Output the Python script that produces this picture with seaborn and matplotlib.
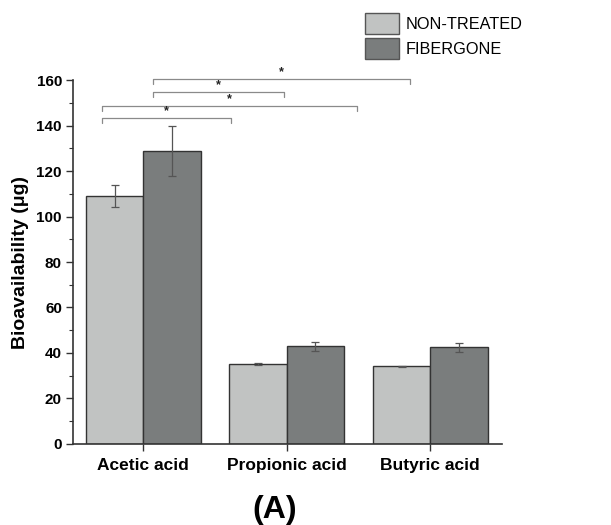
import matplotlib
matplotlib.use("Agg")
import matplotlib.pyplot as plt
import seaborn as sns
import pandas as pd
import numpy as np
from matplotlib.patches import Patch
from matplotlib.ticker import MultipleLocator

categories = ["Acetic acid", "Propionic acid", "Butyric acid"]
groups = ["NON-TREATED", "FIBERGONE"]
non_treated = [109.0, 35.2, 34.2]
non_treated_err = [5.0, 0.4, 0.3]
fibergone = [129.0, 43.0, 42.5]
fibergone_err = [11.0, 2.0, 2.0]
colors = ["#c1c3c2", "#7a7d7d"]
# significance comparisons: (x_start, x_end, y)
brackets = [(-0.29, 0.61, 143.2), (-0.29, 1.49, 148.4), (0.07, 0.98, 154.6), (0.07, 1.86, 160.4)]

sns.set_theme(style="white")
plt.rcParams['font.family'] = ['Liberation Sans', 'DejaVu Sans']
plt.rcParams['text.color'] = 'black'
plt.rcParams['xtick.color'] = 'black'
plt.rcParams['ytick.color'] = 'black'
plt.rcParams['axes.labelcolor'] = 'black'

df = pd.DataFrame({
    "acid": categories * 2,
    "group": [groups[0]] * 3 + [groups[1]] * 3,
    "value": non_treated + fibergone,
    "err": non_treated_err + fibergone_err,
})

fig = plt.figure(figsize=(6.11, 5.25), dpi=100)
ax = fig.add_axes([0.1195, 0.1543, 0.7021, 0.6933])
sns.barplot(data=df, x="acid", y="value", hue="group", order=categories, hue_order=groups,
            palette=colors, errorbar=None, width=0.8, edgecolor="#333333", linewidth=1.0,
            saturation=1, legend=False, ax=ax)

# error bars from the bars' own positions
for container, errs in zip(ax.containers, [non_treated_err, fibergone_err]):
    for bar, e in zip(container, errs):
        xc = bar.get_x() + bar.get_width() / 2
        ax.errorbar(xc, bar.get_height(), yerr=e, color="#555555", elinewidth=0.9,
                    capsize=3, capthick=0.9, zorder=5)

ax.set_xlim(-0.49, 2.5)
ax.set_ylim(0, 160)
ax.yaxis.set_major_locator(MultipleLocator(20))
ax.yaxis.set_minor_locator(MultipleLocator(10))
for s in ["top", "right"]:
    ax.spines[s].set_visible(False)
for s in ["left", "bottom"]:
    ax.spines[s].set_color("#333333")
    ax.spines[s].set_linewidth(1.2)
ax.tick_params(axis="both", which="major", direction="out", length=5, width=1.0,
               color="#333333", left=True, bottom=True, pad=3)
ax.tick_params(axis="x", which="major", pad=5)
ax.tick_params(axis="y", which="minor", direction="out", length=3, width=0.8,
               color="#333333", left=True)
ax.set_xlabel("")
ax.set_ylabel("Bioavailability (μg)", fontsize=14, fontweight="bold", labelpad=5)
for lbl in ax.get_yticklabels():
    lbl.set_fontweight("bold"); lbl.set_fontsize(11)
for lbl in ax.get_xticklabels():
    lbl.set_fontweight("bold"); lbl.set_fontsize(12.5)

for x0, x1, y in brackets:
    ax.plot([x0, x0, x1, x1], [y - 2.0, y, y, y - 2.0], color="#8a8a8a", lw=0.9, clip_on=False)
    ax.text((x0 + x1) / 2, y + 0.6, "*", ha="center", va="bottom", fontsize=9,
            fontweight="bold", color="#222222", clip_on=False)

handles = [Patch(facecolor=c, edgecolor="#555555", label=g) for c, g in zip(colors, groups)]
fig.legend(handles=handles, loc="upper left", bbox_to_anchor=(0.586, 0.988), frameon=False,
           fontsize=11.7, handlelength=2.15, handleheight=1.6, labelspacing=0.25,
           handletextpad=0.35, borderaxespad=0)

fig.text(0.45, 0.029, "(A)", ha="center", va="center", fontsize=23, fontweight="bold")

fig.savefig("out.png", dpi=100)
